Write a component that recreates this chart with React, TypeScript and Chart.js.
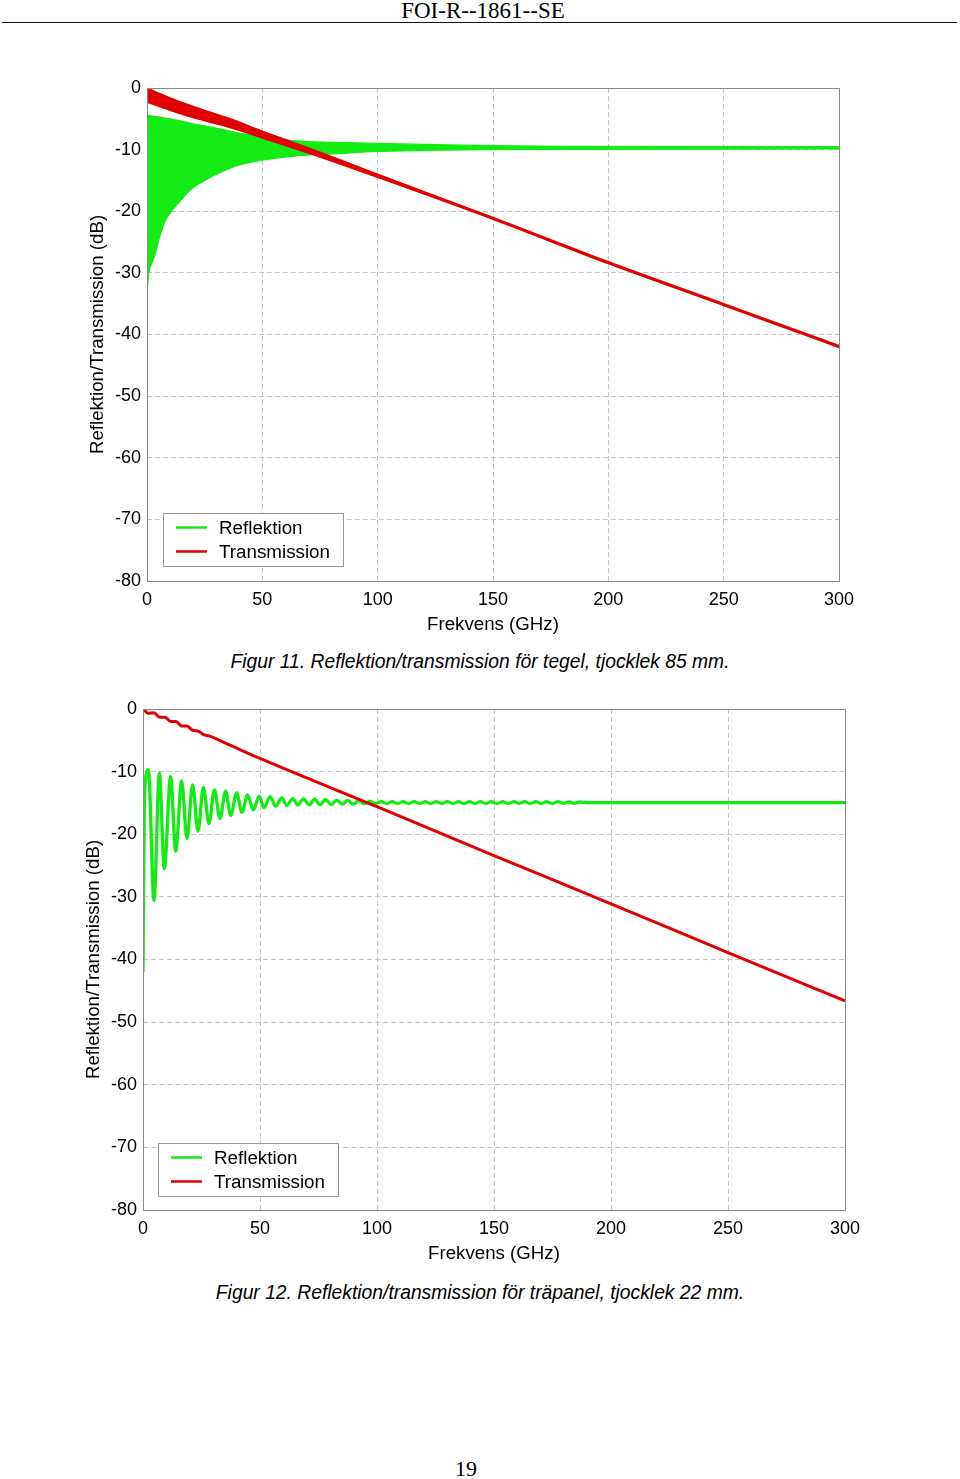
import React, { useEffect, useRef } from 'react';
import { Chart, registerables } from 'chart.js';

Chart.register(...registerables);

const FONT = "'Liberation Sans', Arial, Helvetica, sans-serif";
const GREEN = '#12ec12';
const RED = '#e00000';
const GRID = '#c4c4c4';
const FRAME = '#8a8a8a';

// ---------- axes / labels ----------
const X_TICKS = [0, 50, 100, 150, 200, 250, 300];
const Y_TICKS = [-80, -70, -60, -50, -40, -30, -20, -10, 0];
const LEGEND_LABELS = ['Reflektion', 'Transmission'];
const LEGEND_COLORS = [GREEN, RED];
const X_TITLE = 'Frekvens (GHz)';
const Y_TITLE = 'Reflektion/Transmission (dB)';

// ---------- Figur 11 (tegel 85 mm) : [GHz, dB] ----------
// Reflektion: dense oscillation, drawn as band between upper and lower envelopes
const F11_REFL_UPPER: [number, number][] = [
  [0, -4.4], [5, -4.7], [10, -5.0], [15, -5.4], [20, -5.8], [30, -6.5], [40, -7.3],
  [50, -7.9], [60, -8.4], [70, -8.7], [80, -8.8], [100, -9.0], [125, -9.2],
  [150, -9.35], [180, -9.45], [300, -9.5],
];
const F11_REFL_LOWER: [number, number][] = [
  [0, -33.3], [0.8, -30], [2, -28.5], [3.5, -27], [5.6, -24], [8, -21.5], [10, -20.3],
  [14, -18.5], [18.6, -16.6], [26, -14.8], [33, -13.5], [40, -12.5], [50, -11.7],
  [65, -11.0], [80, -10.7], [100, -10.3], [125, -10.1], [150, -10.0], [180, -9.95], [300, -9.9],
];
// Transmission: band that narrows into a line
const F11_TRANS_UPPER: [number, number][] = [
  [0, 0], [10, -1.6], [20, -3.0], [36, -5.0], [50, -7.0], [75, -10.4], [100, -14.0],
  [150, -21.0], [200, -28.2], [250, -35.0], [300, -41.8],
];
const F11_TRANS_LOWER: [number, number][] = [
  [0, -2.3], [10, -3.6], [20, -4.8], [36, -6.4], [50, -8.1], [75, -11.2], [100, -14.5],
  [150, -21.3], [200, -28.5], [250, -35.3], [300, -42.1],
];

// ---------- Figur 12 (träpanel 22 mm) : [GHz, dB] ----------
const F12_REFLEKTION: [number, number][] = [
  [0, -42], [0.6, -14], [2.3, -9.7], [4.7, -30.6], [7.0, -10.2], [9.1, -25.5], [11.8, -10.8],
  [14.0, -22.7], [16.5, -11.5], [18.8, -20.7], [21.2, -12.1], [23.5, -19.5], [25.8, -12.5],
  [28.2, -18.3], [30.5, -12.9], [32.9, -17.5], [35.3, -13.1], [37.5, -17.0], [40.0, -13.4],
  [42.3, -16.5], [44.7, -13.7], [47.1, -16.1], [49.7, -13.9], [51.7, -15.8], [54.3, -14.0],
  [56.7, -15.5], [59.3, -14.2], [61.4, -15.4], [64.0, -14.3], [66.1, -15.35], [68.6, -14.35],
  [71.0, -15.3], [73.4, -14.4], [75.7, -15.3], [78.0, -14.45], [80.4, -15.25], [82.8, -14.55],
  [85.2, -15.2], [87.5, -14.6], [89.9, -15.2], [92.3, -14.65], [94.6, -15.15], [97.0, -14.7],
  [99.4, -15.1], [101.7, -14.8], [104.1, -15.1], [106.5, -14.8], [108.8, -15.1], [111.2, -14.8],
  [113.5, -15.1], [115.9, -14.8], [118.3, -15.1], [120.6, -14.8], [123.0, -15.1], [125.3, -14.8],
  [127.7, -15.1], [130.1, -14.8], [132.4, -15.1], [134.8, -14.8], [137.1, -15.1], [139.5, -14.8],
  [141.9, -15.1], [144.2, -14.8], [146.6, -15.1], [148.9, -14.8], [151.3, -15.1], [153.7, -14.8],
  [156.0, -15.1], [158.4, -14.8], [160.7, -15.1], [163.1, -14.8], [165.5, -15.1], [167.8, -14.8],
  [170.2, -15.1], [172.5, -14.8], [174.9, -15.1], [177.3, -14.8], [179.6, -15.05], [182.0, -14.85],
  [184.3, -15.05], [186.7, -14.85], [190, -14.95], [300, -14.95],
];
const F12_TRANSMISSION: [number, number][] = [
  [0, 0], [2.4, -0.7], [4.7, -0.6], [7.1, -1.3], [9.4, -1.3], [11.8, -2.0], [14.1, -2.0],
  [16.5, -2.7], [18.8, -2.7], [21.2, -3.4], [23.5, -3.5], [25.9, -4.1], [28.2, -4.3],
  [35, -5.4], [50, -7.9], [100, -15.6], [150, -23.4], [200, -31.1], [250, -38.9], [300, -46.6],
];

type Layout = {
  padTop: number; padRight: number; yWidth: number; xHeight: number;
  yTitlePad: number; xTitlePad: number; legendDx: number; legendDy: number;
};

const pts = (a: [number, number][]) => a.map(([x, y]) => ({ x, y }));

const framePlugin = {
  id: 'frame',
  afterDatasetsDraw(chart: any) {
    const { ctx, chartArea: a } = chart;
    ctx.save();
    ctx.strokeStyle = FRAME;
    ctx.lineWidth = 1;
    ctx.strokeRect(Math.round(a.left) + 0.5, Math.round(a.top) + 0.5, Math.round(a.right - a.left), Math.round(a.bottom - a.top));
    ctx.restore();
  },
};

const legendPlugin = (L: Layout) => ({
  id: 'boxLegend',
  afterDraw(chart: any) {
    const { ctx, chartArea } = chart;
    const x = Math.round(chartArea.left + L.legendDx);
    const y = Math.round(chartArea.bottom - L.legendDy);
    ctx.save();
    ctx.fillStyle = '#ffffff';
    ctx.fillRect(x, y, 180, 53);
    ctx.strokeStyle = '#9a9a9a';
    ctx.lineWidth = 1;
    ctx.strokeRect(x + 0.5, y + 0.5, 180, 53);
    LEGEND_LABELS.forEach((label, i) => {
      const cy = y + 14.5 + i * 24;
      ctx.strokeStyle = LEGEND_COLORS[i];
      ctx.lineWidth = 2.5;
      ctx.beginPath();
      ctx.moveTo(x + 13, cy);
      ctx.lineTo(x + 44, cy);
      ctx.stroke();
      ctx.fillStyle = '#000';
      ctx.font = `18.8px ${FONT}`;
      ctx.textBaseline = 'middle';
      ctx.textAlign = 'left';
      ctx.fillText(label, x + 56, cy + 1);
    });
    ctx.restore();
  },
});

function makeConfig(datasets: any[], L: Layout): any {
  const tickFont = { family: FONT, size: 18 };
  const titleFont = { family: FONT, size: 18.7 };
  return {
    type: 'line',
    data: { datasets },
    options: {
      responsive: false,
      animation: false,
      events: [],
      layout: { padding: { left: 0, top: L.padTop, right: L.padRight, bottom: 0 } },
      plugins: { legend: { display: false }, tooltip: { enabled: false }, title: { display: false } },
      elements: { point: { radius: 0 } },
      scales: {
        x: {
          type: 'linear', min: 0, max: 300,
          afterBuildTicks: (s: any) => { s.ticks = X_TICKS.map((v) => ({ value: v })); },
          afterFit: (s: any) => { s.height = L.xHeight; },
          grid: { color: GRID, lineWidth: 1, drawTicks: false },
          border: { display: false, dash: [5, 3] },
          ticks: { font: tickFont, color: '#000', padding: 8, maxRotation: 0, autoSkip: false, callback: (v: any) => String(v) },
          title: { display: true, text: X_TITLE, color: '#000', font: titleFont, padding: { top: 0, bottom: L.xTitlePad } },
        },
        y: {
          type: 'linear', min: -80, max: 0,
          afterBuildTicks: (s: any) => { s.ticks = Y_TICKS.map((v) => ({ value: v })); },
          afterFit: (s: any) => { s.width = L.yWidth; },
          grid: { color: GRID, lineWidth: 1, drawTicks: false },
          border: { display: false, dash: [5, 3] },
          ticks: { font: tickFont, color: '#000', padding: 6, autoSkip: false, callback: (v: any) => String(v) },
          title: { display: true, text: Y_TITLE, color: '#000', font: titleFont, padding: { top: L.yTitlePad, bottom: 0 } },
        },
      },
    },
    plugins: [framePlugin, legendPlugin(L)],
  };
}

const L11: Layout = { padTop: 28, padRight: 121, yWidth: 147, xHeight: 69, yTitlePad: 86.5, xTitlePad: 14, legendDx: 16, legendDy: 68 };
const L12: Layout = { padTop: 29, padRight: 115, yWidth: 143, xHeight: 70, yTitlePad: 82.5, xTitlePad: 15, legendDx: 15, legendDy: 67 };

function config11() {
  const mono = { cubicInterpolationMode: 'monotone' as const, pointRadius: 0 };
  return makeConfig([
    { label: 'Transmission', data: pts(F11_TRANS_UPPER), borderColor: RED, borderWidth: 1.5, fill: false, ...mono },
    { label: 'Transmission (lower)', data: pts(F11_TRANS_LOWER), borderColor: RED, borderWidth: 1.5, backgroundColor: RED, fill: '-1', ...mono },
    { label: 'Reflektion', data: pts(F11_REFL_UPPER), borderColor: GREEN, borderWidth: 1.2, fill: false, ...mono },
    { label: 'Reflektion (lower)', data: pts(F11_REFL_LOWER), borderColor: GREEN, borderWidth: 1.2, backgroundColor: GREEN, fill: '-1', ...mono },
  ], L11);
}

function config12() {
  const mono = { cubicInterpolationMode: 'monotone' as const, pointRadius: 0, fill: false };
  return makeConfig([
    { label: 'Transmission', data: pts(F12_TRANSMISSION), borderColor: RED, borderWidth: 3, ...mono },
    { label: 'Reflektion', data: pts(F12_REFLEKTION), borderColor: GREEN, borderWidth: 3.3, ...mono },
  ], L12);
}

function ChartCanvas({ top, height, build }: { top: number; height: number; build: () => any }) {
  const ref = useRef<HTMLCanvasElement>(null);
  useEffect(() => {
    const chart = new Chart(ref.current as HTMLCanvasElement, build());
    return () => chart.destroy();
  }, []);
  return (
    <canvas
      ref={ref}
      width={960}
      height={height}
      style={{ position: 'absolute', left: 0, top, width: 960, height, display: 'block' }}
    />
  );
}

const captionStyle: React.CSSProperties = {
  position: 'absolute', left: 0, width: 960, textAlign: 'center',
  fontFamily: FONT, fontStyle: 'italic', fontSize: 19.3, lineHeight: '19px', color: '#000', whiteSpace: 'nowrap',
};

export default function App() {
  return (
    <div style={{ position: 'absolute', left: 0, top: 0, width: 960, height: 1479, background: '#fff', overflow: 'hidden' }}>
      <div style={{ position: 'absolute', left: 0, top: 0, width: 966, textAlign: 'center', fontFamily: "'Liberation Serif', 'Times New Roman', serif", fontSize: 23, lineHeight: '22px', color: '#000' }}>
        FOI-R--1861--SE
      </div>
      <div style={{ position: 'absolute', left: 2, top: 22, width: 955, height: 1, background: '#111' }} />
      <ChartCanvas top={60} height={590} build={config11} />
      <div style={{ ...captionStyle, top: 652 }}>Figur 11. Reflektion/transmission för tegel, tjocklek 85 mm.</div>
      <ChartCanvas top={680} height={600} build={config12} />
      <div style={{ ...captionStyle, top: 1283 }}>Figur 12. Reflektion/transmission för träpanel, tjocklek 22 mm.</div>
      <div style={{ position: 'absolute', left: 0, top: 1458, width: 932, textAlign: 'center', fontFamily: "'Liberation Serif', 'Times New Roman', serif", fontSize: 22, lineHeight: '22px', color: '#000' }}>
        19
      </div>
    </div>
  );
}
